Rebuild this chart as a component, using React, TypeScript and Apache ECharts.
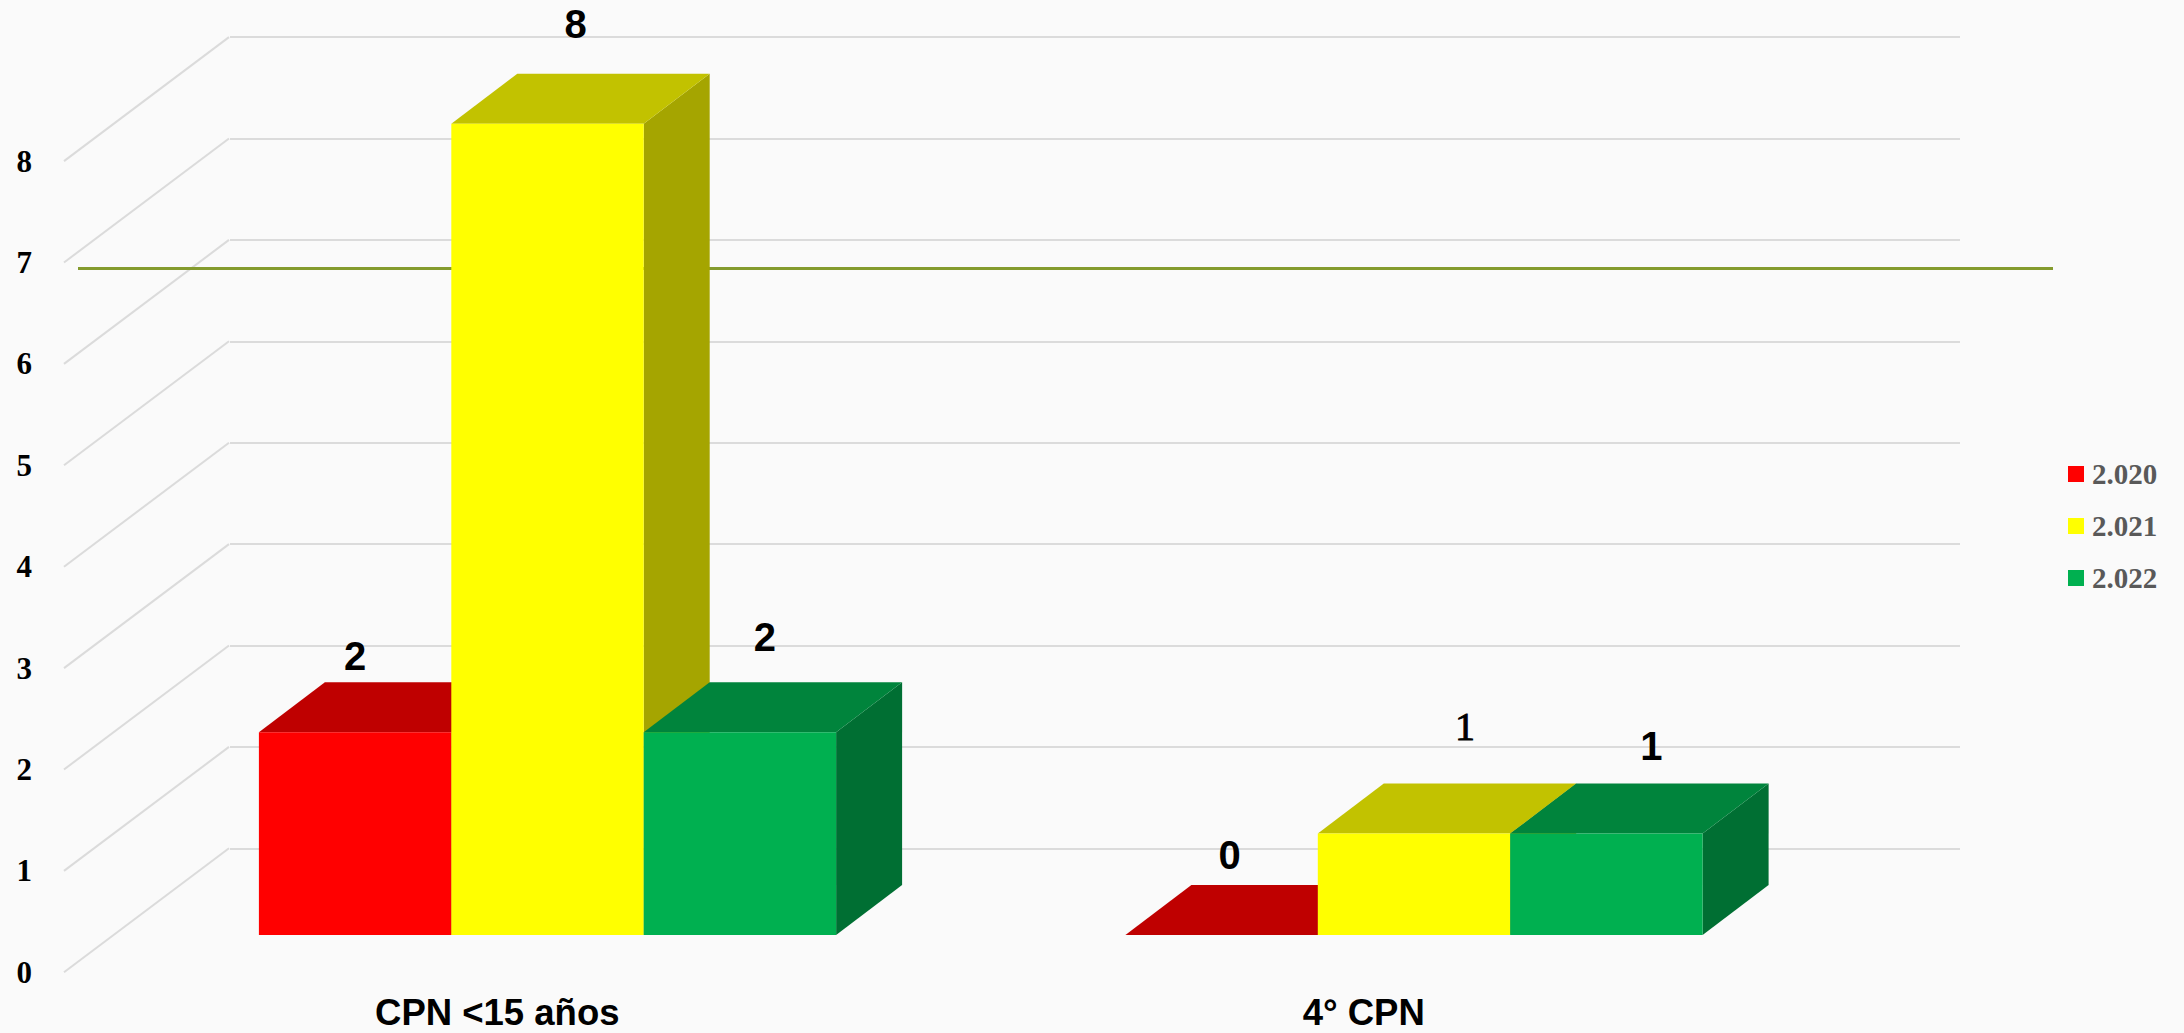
import React, { useEffect, useRef } from "react";
import * as echarts from "echarts";

const categories = ["CPN <15 años", "4° CPN"];
const seriesNames = ["2.020", "2.021", "2.022"];
const values2020 = [2, 0];
const values2021 = [8, 1];
const values2022 = [2, 1];
const referenceLevel = [6.94, 6.94];
const tickValues = [0, 1, 2, 3, 4, 5, 6, 7, 8];

const W = 2184;
const H = 1033;
const UNIT = 101.4;
const PLOT_H = UNIT * 8;
const BACK_BASE = 848.3;
const FRONT_BASE = 972.3;
const BAR_BASE = 935;
const CAT_W = 866.5;
const BAR_W = 192.4;
const DEPTH_X = 66;
const DEPTH_Y = 50;
const WALL_DX = 165;
const WALL_DY = 124;

const palette = [
  { front: "#FF0000", top: "#BF0000", side: "#A00000" },
  { front: "#FFFF00", top: "#C2C200", side: "#A5A500" },
  { front: "#00B050", top: "#00843C", side: "#006F33" },
];

// label placement relative to the top-centre of each bar's front face: [dx, dy]
const labelShift = [
  [[0, -76], [8, -80]],
  [[28, -100], [51, -107]],
  [[25, -95], [45, -88]],
];
const labelFont = [
  ["bold 40px 'Liberation Sans'", "bold 40px 'Liberation Sans'"],
  ["bold 40px 'Liberation Sans'", "40px 'Liberation Serif'"],
  ["bold 40px 'Liberation Sans'", "bold 40px 'Liberation Sans'"],
];
const labelStroke = [
  [0, 0],
  [0, 0.9],
  [0, 0],
];

function barSeries(i: number, values: number[]) {
  const c = palette[i];
  return {
    type: "custom",
    name: seriesNames[i],
    xAxisIndex: 1,
    yAxisIndex: 1,
    z: 5,
    itemStyle: { color: c.front },
    encode: { x: 0, y: 1 },
    data: values.map((v, k) => [k, v]),
    renderItem(params: any, api: any) {
      const k = api.value(0);
      const v = api.value(1);
      const [cx, yTop] = api.coord([k, v]);
      const [, yBase] = api.coord([k, 0]);
      const x0 = cx + (i - 1.5) * BAR_W;
      const x1 = x0 + BAR_W;
      const poly = (pts: number[][], fill: string) => ({
        type: "polygon",
        shape: { points: pts },
        style: { fill },
      });
      const sh = labelShift[i][k];
      return {
        type: "group",
        children: [
          poly(
            [[x1, yTop], [x1 + DEPTH_X, yTop - DEPTH_Y], [x1 + DEPTH_X, yBase - DEPTH_Y], [x1, yBase]],
            c.side
          ),
          poly(
            [[x0, yTop], [x1, yTop], [x1 + DEPTH_X, yTop - DEPTH_Y], [x0 + DEPTH_X, yTop - DEPTH_Y]],
            c.top
          ),
          {
            type: "rect",
            shape: { x: x0, y: yTop, width: BAR_W, height: yBase - yTop },
            style: { fill: c.front },
          },
          {
            type: "text",
            z2: 50,
            style: {
              text: String(v),
              x: (x0 + x1) / 2 + sh[0],
              y: yTop + sh[1],
              font: labelFont[i][k],
              fill: "#000000",
              stroke: labelStroke[i][k] ? "#000000" : undefined,
              lineWidth: labelStroke[i][k],
              align: "center",
              verticalAlign: "middle",
            },
          },
        ],
      };
    },
  };
}

export default function App() {
  const ref = useRef<HTMLDivElement>(null);

  useEffect(() => {
    const chart = echarts.init(ref.current!, undefined, { renderer: "svg" });
    const yBase = { type: "value", min: 0, max: 8, interval: 1 };
    const hiddenY = { ...yBase, axisLabel: { show: false }, axisLine: { show: false }, axisTick: { show: false }, splitLine: { show: false } };
    chart.setOption({
      animation: false,
      backgroundColor: "#FAFAFA",
      grid: [
        { left: 230, top: BACK_BASE - PLOT_H, width: 1730, height: PLOT_H },
        { left: 547.5 - CAT_W / 2, top: BAR_BASE - PLOT_H, width: CAT_W * 2, height: PLOT_H },
        { left: 64, top: FRONT_BASE - PLOT_H, width: CAT_W * 2, height: PLOT_H },
        { left: 78, top: FRONT_BASE - PLOT_H, width: 1975, height: PLOT_H },
      ],
      xAxis: [
        { gridIndex: 0, type: "category", data: categories, show: false },
        { gridIndex: 1, type: "category", data: categories, show: false },
        {
          gridIndex: 2,
          type: "category",
          data: categories,
          axisLine: { show: false },
          axisTick: { show: false },
          axisLabel: {
            margin: 24,
            fontFamily: "'Liberation Sans'",
            fontWeight: "bold",
            fontSize: 36.5,
            lineHeight: 33,
            color: "#000000",
          },
        },
        { gridIndex: 3, type: "value", min: 0, max: 1, show: false },
      ],
      yAxis: [
        {
          ...hiddenY,
          gridIndex: 0,
          splitLine: { show: true, lineStyle: { color: "#DBDBDB", width: 2 } },
        },
        { ...hiddenY, gridIndex: 1 },
        {
          ...hiddenY,
          gridIndex: 2,
          axisLabel: {
            show: true,
            margin: 32,
            fontFamily: "'Liberation Serif'",
            fontWeight: "bold",
            fontSize: 31,
            color: "#000000",
          },
        },
        { ...hiddenY, gridIndex: 3 },
      ],
      legend: {
        orient: "vertical",
        left: 2068,
        top: 459.5,
        padding: 0,
        icon: "rect",
        itemWidth: 16,
        itemHeight: 16,
        itemGap: 23,
        data: seriesNames,
        selectedMode: false,
        textStyle: {
          fontFamily: "'Liberation Serif'",
          fontWeight: "bold",
          fontSize: 29,
          color: "#595959",
          padding: [0, 0, 0, 3],
        },
      },
      series: [
        {
          type: "custom",
          name: "wall",
          xAxisIndex: 2,
          yAxisIndex: 2,
          z: 1,
          silent: true,
          data: tickValues.map((v) => [0, v]),
          encode: { x: 0, y: 1 },
          renderItem(_p: any, api: any) {
            const [cx, y] = api.coord([0, api.value(1)]);
            const x = cx - api.size([1, 0])[0] / 2;
            return {
              type: "line",
              shape: { x1: x, y1: y, x2: x + WALL_DX, y2: y - WALL_DY },
              style: { stroke: "#DBDBDB", lineWidth: 2 },
            };
          },
        },
        {
          type: "line",
          name: "meta",
          xAxisIndex: 3,
          yAxisIndex: 3,
          z: 2,
          showSymbol: false,
          silent: true,
          lineStyle: { color: "#849B2E", width: 3 },
          data: referenceLevel.map((v, i) => [i, v]),
        },
        barSeries(0, values2020),
        barSeries(1, values2021),
        barSeries(2, values2022),
      ],
    });
    return () => chart.dispose();
  }, []);

  return (
    <div
      ref={ref}
      style={{ position: "absolute", left: 0, top: 0, width: W, height: H }}
    />
  );
}
